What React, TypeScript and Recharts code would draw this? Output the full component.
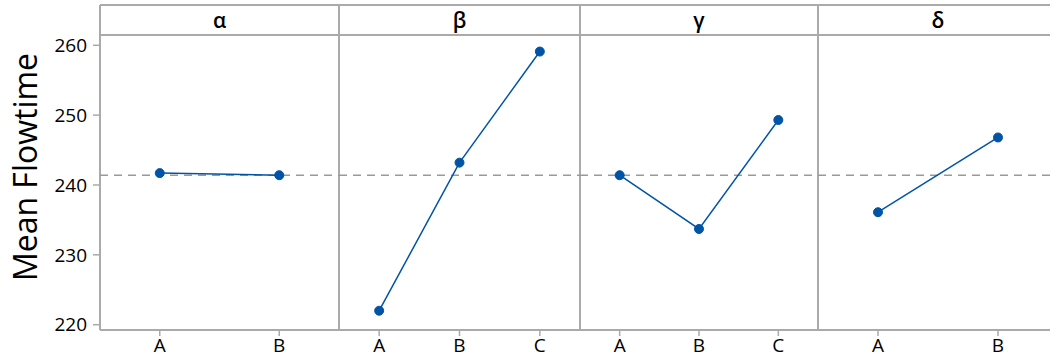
import { LineChart, Line, XAxis, YAxis, ReferenceLine } from 'recharts';

// factor names shown in the strips
const factors = ['α', 'β', 'γ', 'δ'];

// level labels and mean response per factor
const alphaLevels = ['A', 'B'];
const alphaMeans = [241.7, 241.4];
const betaLevels = ['A', 'B', 'C'];
const betaMeans = [222.0, 243.2, 259.1];
const gammaLevels = ['A', 'B', 'C'];
const gammaMeans = [241.4, 233.7, 249.3];
const deltaLevels = ['A', 'B'];
const deltaMeans = [236.1, 246.8];

const grandMean = 241.4;
const yTicks = [220, 230, 240, 250, 260];

const FONT = '"Open Sans", "Noto Sans", sans-serif';
const GRID = '#aaaaaa';
const BLUE = '#0054a6';

// panel geometry (page px)
const FRAME_LEFT = 100;
const FRAME_TOP = 5;
const STRIP_BOTTOM = 35;
const PLOT_BOTTOM = 330;
const panelX = [100, 339, 580, 818];
const panelW = [239, 241, 238, 240];
const Y_DOMAIN: [number, number] = [219.24, 261.47];

const panels = [
  { levels: alphaLevels, means: alphaMeans },
  { levels: betaLevels, means: betaMeans },
  { levels: gammaLevels, means: gammaMeans },
  { levels: deltaLevels, means: deltaMeans },
];

function Panel({ idx }: { idx: number }) {
  const { levels, means } = panels[idx];
  const data = levels.map((lv, i) => ({ level: lv, mean: means[i] }));
  const w = panelW[idx];
  const pad = w / (2 * levels.length);
  const first = idx === 0;
  const left = first ? 0 : panelX[idx];
  const width = first ? panelX[0] + w : w;

  return (
    <div style={{ position: 'absolute', left, top: FRAME_TOP }}>
      <LineChart
        width={width}
        height={363 - FRAME_TOP}
        data={data}
        margin={{ top: STRIP_BOTTOM - FRAME_TOP, right: 0, bottom: 0, left: 0 }}
      >
        <XAxis
          dataKey="level"
          height={363 - PLOT_BOTTOM}
          padding={{ left: pad, right: pad }}
          axisLine={false}
          tickLine={{ stroke: GRID, strokeWidth: 1.5 }}
          tickSize={6}
          tickMargin={3}
          interval={0}
          tick={{ fill: '#000', fontSize: 19, fontWeight: 500, fontFamily: FONT }}
        />
        <YAxis
          hide={!first}
          width={FRAME_LEFT}
          type="number"
          domain={Y_DOMAIN}
          ticks={yTicks}
          axisLine={false}
          tickLine={{ stroke: GRID, strokeWidth: 1.5 }}
          tickSize={7}
          tickMargin={6}
          tick={{ fill: '#000', fontSize: 19, fontWeight: 500, fontFamily: FONT }}
        />
        <ReferenceLine y={grandMean} stroke="#999999" strokeWidth={1.5} strokeDasharray="8 6" />
        <Line
          dataKey="mean"
          stroke={BLUE}
          strokeWidth={1.5}
          dot={{ r: 4.5, fill: BLUE, stroke: BLUE, strokeWidth: 1 }}
          isAnimationActive={false}
        />
      </LineChart>
    </div>
  );
}

export default function App() {
  return (
    <div style={{ position: 'absolute', left: 0, top: 0, width: 1050, height: 363, background: '#fff', overflow: 'hidden' }}>
      <svg width={1050} height={363} style={{ position: 'absolute', left: 0, top: 0 }}>
        <text
          transform="translate(24,167) rotate(-90)"
          textAnchor="middle"
          dominantBaseline="central"
          fontSize={32}
          fontWeight={500}
          fontFamily={FONT}
          fill="#000"
        >
          Mean Flowtime
        </text>
        {/* frame */}
        <line x1={FRAME_LEFT} y1={FRAME_TOP} x2={1050} y2={FRAME_TOP} stroke={GRID} strokeWidth={2} />
        <line x1={FRAME_LEFT} y1={STRIP_BOTTOM} x2={1050} y2={STRIP_BOTTOM} stroke={GRID} strokeWidth={2} />
        <line x1={FRAME_LEFT} y1={PLOT_BOTTOM} x2={1050} y2={PLOT_BOTTOM} stroke={GRID} strokeWidth={2} />
        {panelX.map((x) => (
          <line key={x} x1={x} y1={FRAME_TOP} x2={x} y2={PLOT_BOTTOM} stroke={GRID} strokeWidth={2} />
        ))}
        {factors.map((f, i) => (
          <text
            key={f}
            x={panelX[i] + panelW[i] / 2}
            y={(FRAME_TOP + STRIP_BOTTOM) / 2}
            textAnchor="middle"
            dominantBaseline="central"
            fontSize={21}
            fontWeight={600}
            fontFamily={FONT}
            fill="#000"
          >
            {f}
          </text>
        ))}
      </svg>
      {panels.map((_, i) => (
        <Panel key={i} idx={i} />
      ))}
    </div>
  );
}
